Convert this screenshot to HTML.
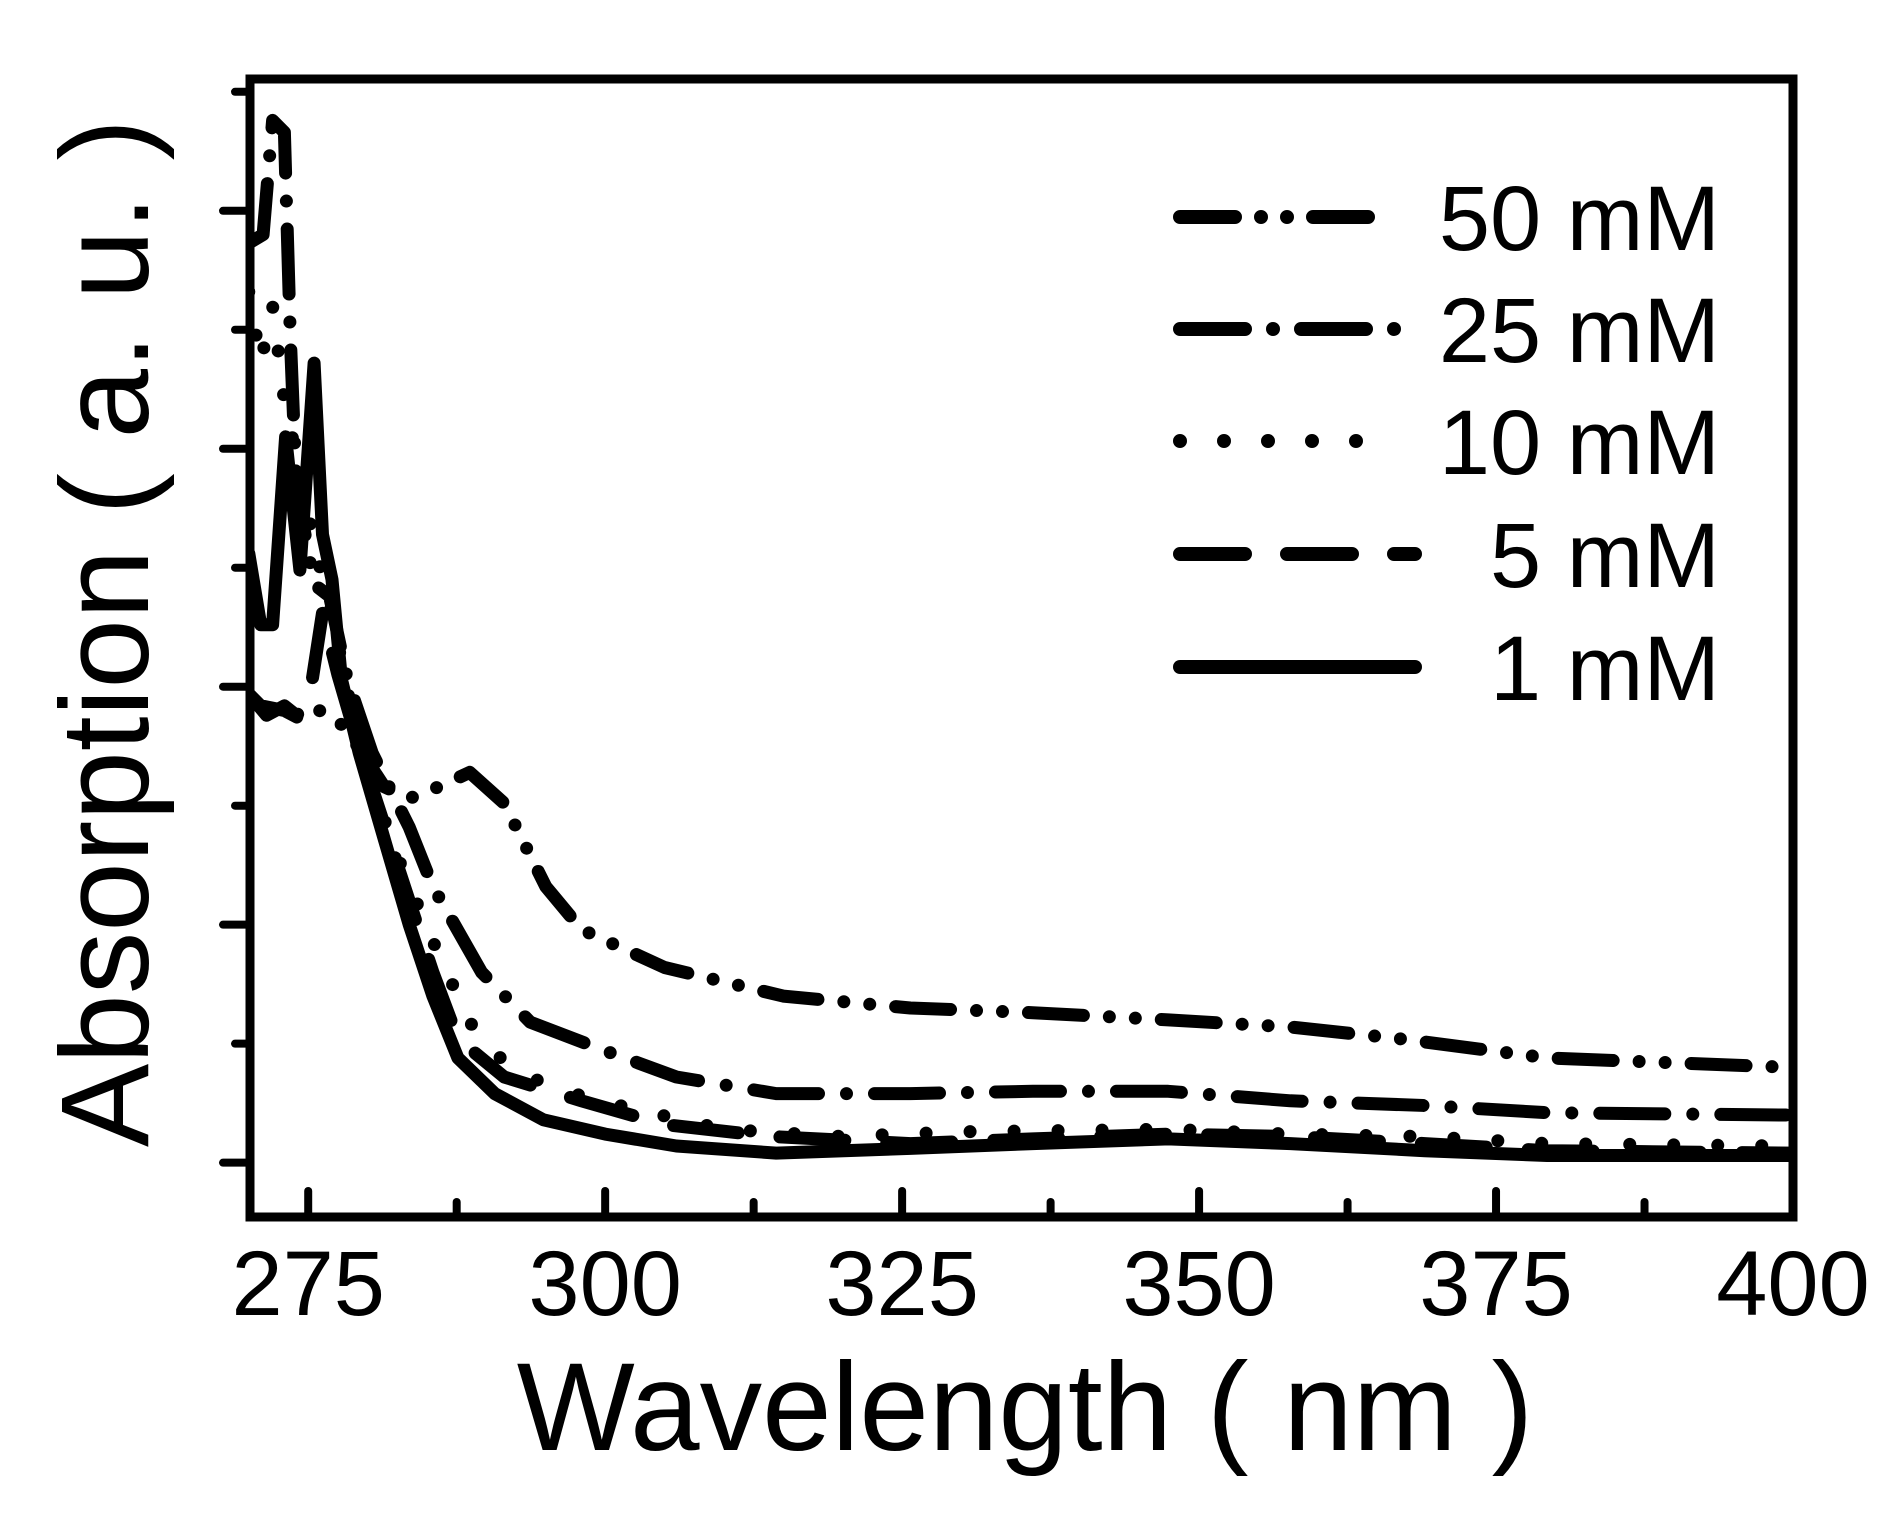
<!DOCTYPE html>
<html><head><meta charset="utf-8"><style>
html,body{margin:0;padding:0;background:#fff}
svg{display:block}
text{font-family:"Liberation Sans",Arial,sans-serif;fill:#000}
</style></head><body>
<svg id="chart" width="1898" height="1518" viewBox="0 0 1898 1518" xmlns="http://www.w3.org/2000/svg">
<g id="series"></g>
<g id="axes"></g>
<g id="legend"></g>
<text x="1025" y="1450" font-size="125" text-anchor="middle">Wavelength ( nm )</text>
<text transform="translate(148,633) rotate(-90)" font-size="125" text-anchor="middle">Absorption ( a. u. )</text>
</svg>
<script>
const xTicks=[275,300,325,350,375,400];
const seriesNames=["50 mM","25 mM","10 mM","5 mM","1 mM"];
const wl1=[270,271,272,273.1,274.3,275.5,276.2,277,277.8,279.3,281.4,283.5,285.5,287.6,290.7,294.8,300,306,314.4,325.7,336,347.4,357.7,369,379.3,400];
const ab1=[2.56,2.26,2.26,3.05,2.49,3.36,2.64,2.45,2.03,1.72,1.36,1.0,0.70,0.44,0.29,0.18,0.12,0.07,0.04,0.06,0.08,0.10,0.08,0.05,0.03,0.03];
const wl5=[270,271.5,273,274,275,276.2,277.5,279.3,281.4,283.5,285.5,287.6,291.5,298,305,314,325.7,336,347.4,357.7,369,379.3,400];
const ab5=[1.97,1.88,1.92,1.88,1.92,2.31,2.05,1.74,1.42,1.10,0.80,0.52,0.36,0.26,0.16,0.11,0.08,0.10,0.12,0.11,0.08,0.05,0.04];
const wl10=[270,271,272,273,274.3,275.5,277,279.3,282.4,285.5,288.6,291.7,295.8,302,310,320,330,347.4,357.7,369,379.3,400];
const ab10=[3.66,3.36,3.6,3.2,2.9,2.6,2.3,1.74,1.30,0.93,0.59,0.41,0.31,0.23,0.14,0.11,0.13,0.14,0.12,0.11,0.08,0.07];
const wl25=[270.2,271.2,272,273,273.5,274,275.5,276.8,278.3,280.4,283.5,285.5,289.6,293.7,300,306,314.4,325.7,336,347.4,357.7,369,379.3,400];
const ab25=[3.87,3.9,4.38,4.33,3.46,2.84,2.43,2.38,2.03,1.72,1.41,1.16,0.80,0.59,0.47,0.36,0.29,0.29,0.30,0.30,0.26,0.24,0.21,0.20];
const wl50=[270,271,273,274.5,276,277.5,279.3,281.4,283.5,286,288.6,291.5,295,298,305,315,325.7,336,347.4,357.7,367,379.3,400];
const ab50=[1.97,1.92,1.90,1.86,1.90,1.86,1.74,1.58,1.53,1.58,1.64,1.51,1.16,0.98,0.82,0.70,0.65,0.63,0.60,0.57,0.52,0.44,0.40];
const allW=[wl50,wl25,wl10,wl5,wl1], allA=[ab50,ab25,ab10,ab5,ab1];
const dashes=["55 26 0 26 0 26","65 28 0 28","0 44","65 42",""];
const L=250,R=1793,T=79,B=1217;
const xMin=270.1,xMax=400,yMin=-0.22,yMax=4.6,yTop=68,yBot=1215;
const X=v=>L+(v-xMin)/(xMax-xMin)*(R-L);
const Y=v=>yBot-(v-yMin)/(yMax-yMin)*(yBot-yTop);
const NS="http://www.w3.org/2000/svg";
const sg=document.getElementById('series'),ag=document.getElementById('axes'),lg=document.getElementById('legend');
const svg=document.getElementById('chart');
const clip=document.createElementNS(NS,'clipPath');clip.setAttribute('id','pc');
const cr=document.createElementNS(NS,'rect');cr.setAttribute('x',L);cr.setAttribute('y',T);cr.setAttribute('width',R-L);cr.setAttribute('height',B-T);clip.appendChild(cr);svg.appendChild(clip);
sg.setAttribute('clip-path','url(#pc)');
allW.forEach((w,i)=>{
  const d=w.map((v,j)=>(j?'L':'M')+X(v).toFixed(1)+' '+Y(allA[i][j]).toFixed(1)).join(' ');
  const p=document.createElementNS(NS,'path');
  p.setAttribute('d',d);p.setAttribute('fill','none');p.setAttribute('stroke','#000');
  p.setAttribute('stroke-width','13');p.setAttribute('stroke-linecap','round');p.setAttribute('stroke-linejoin','round');
  if(dashes[i])p.setAttribute('stroke-dasharray',dashes[i]);
  
  
  sg.appendChild(p);
});
const fr=document.createElementNS(NS,'rect');
fr.setAttribute('x',L);fr.setAttribute('y',T);fr.setAttribute('width',R-L);fr.setAttribute('height',B-T);
fr.setAttribute('fill','none');fr.setAttribute('stroke','#000');fr.setAttribute('stroke-width','9');


ag.appendChild(fr);
function line(x1,y1,x2,y2,name){const l=document.createElementNS(NS,'line');
l.setAttribute('x1',x1);l.setAttribute('y1',y1);l.setAttribute('x2',x2);l.setAttribute('y2',y2);
l.setAttribute('stroke','#000');l.setAttribute('stroke-width','8');l.setAttribute('stroke-linecap','round');


ag.appendChild(l);}
xTicks.forEach(t=>{
  line(X(t),B,X(t),B-26,'x-tick-major');
  if(t<400)line(X(t+12.5),B,X(t+12.5),B-15,'x-tick-minor');
  const tx=document.createElementNS(NS,'text');tx.setAttribute('x',X(t));tx.setAttribute('y',1315);
  tx.setAttribute('font-size','92');tx.setAttribute('text-anchor','middle');tx.textContent=t;
  
  
  ag.appendChild(tx);
});
for(let v=0;v<=4;v++){line(L,Y(v),L-27,Y(v),'y-tick-major');line(L,Y(v+0.5),L-15,Y(v+0.5),'y-tick-minor');}
const ly=[217,329,441,554,667];
seriesNames.forEach((n,i)=>{
  const l=document.createElementNS(NS,'line');
  l.setAttribute('x1',1180);l.setAttribute('y1',ly[i]);l.setAttribute('x2',i==2?1395:(i==0?1388:1415));l.setAttribute('y2',ly[i]);
  l.setAttribute('stroke','#000');l.setAttribute('stroke-width','14');l.setAttribute('stroke-linecap','round');
  if(dashes[i])l.setAttribute('stroke-dasharray',dashes[i]);
  
  
  lg.appendChild(l);
  const t=document.createElementNS(NS,'text');t.setAttribute('x',1720);t.setAttribute('y',ly[i]+33);
  t.setAttribute('font-size','92');t.setAttribute('text-anchor','end');t.textContent=n;
  
  
  lg.appendChild(t);
});
</script>
</body></html>
